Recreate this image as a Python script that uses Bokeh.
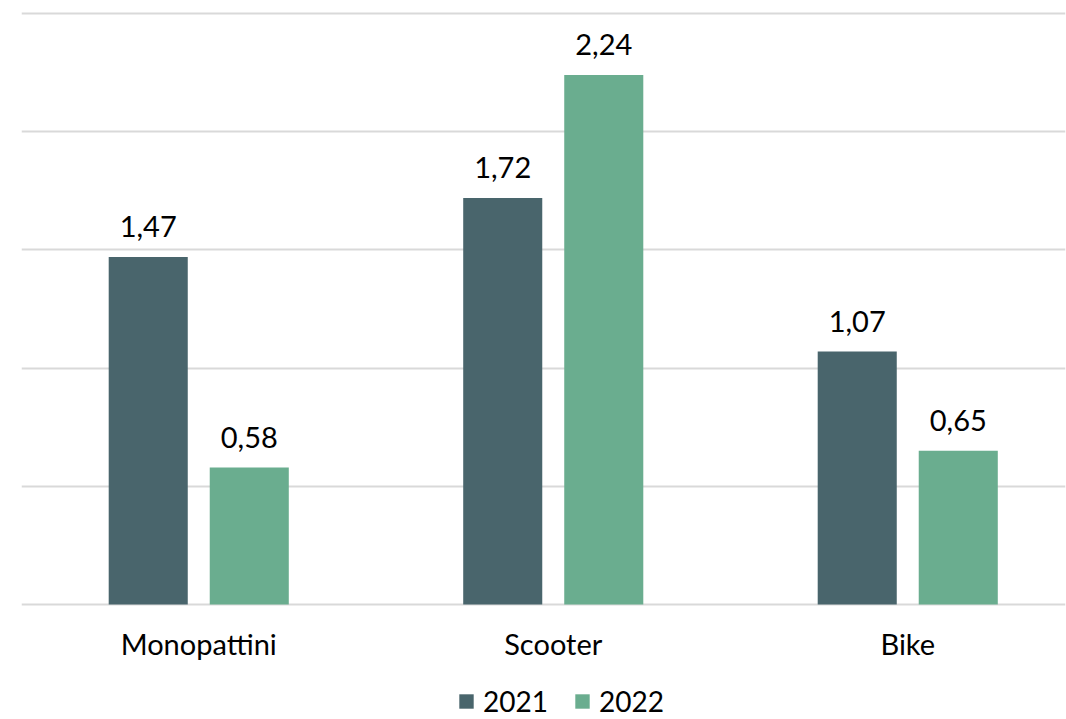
from bokeh.plotting import figure
from bokeh.models import ColumnDataSource, FixedTicker, Legend, LegendItem
from bokeh.embed import file_html
from bokeh.resources import INLINE
from bokeh.core.properties import value

categories = ["Monopattini", "Scooter", "Bike"]
series_names = ["2021", "2022"]
values_2021 = [1.47, 1.72, 1.07]
values_2022 = [0.58, 2.24, 0.65]
grid_ticks = [0, 0.5, 1.0, 1.5, 2.0, 2.5]
colors = ["#49656C", "#6AAD8F"]
FONT = "Lato"

xs = list(range(len(categories)))
p = figure(width=1066, height=719, output_backend="svg", toolbar_location=None,
           x_range=(-0.5, 2.445), y_range=(-0.4865, 2.555),
           min_border_left=21, min_border_right=1, min_border_top=0, min_border_bottom=0)
p.outline_line_color = None
p.background_fill_color = "white"
p.border_fill_color = "white"
p.xaxis.visible = False
p.yaxis.visible = False
p.xgrid.visible = False
p.ygrid.ticker = FixedTicker(ticks=grid_ticks)
p.ygrid.grid_line_color = "#D9D9D9"
p.ygrid.grid_line_width = 2

offset = 0.1425
width = 0.223
renderers = []
for i, (name, vals, col) in enumerate(zip(series_names, [values_2021, values_2022], colors)):
    dx = -offset if i == 0 else offset
    src = ColumnDataSource(dict(x=[x + dx for x in xs], top=vals,
                                lab=[f"{v:.2f}".replace(".", ",") for v in vals]))
    r = p.vbar(x="x", top="top", width=width, source=src, fill_color=col, line_color=None)
    renderers.append(r)
    p.text(x="x", y="top", text="lab", source=src, text_align="center", text_baseline="alphabetic",
           y_offset=-30, text_font=value(FONT), text_font_size="29px", text_color="#000000")

cat_src = ColumnDataSource(dict(x=xs, y=[0] * len(xs), t=categories))
p.text(x="x", y="y", text="t", source=cat_src, text_align="center", text_baseline="top",
       y_offset=22, text_font=value(FONT), text_font_size="29px", text_color="#000000")

legend = Legend(items=[LegendItem(label=n, renderers=[r]) for n, r in zip(series_names, renderers)],
                orientation="horizontal", location=(436, 1),
                label_text_font=FONT, label_text_font_size="28px", label_text_color="#000000",
                glyph_width=18, glyph_height=18, spacing=25, label_standoff=8,
                border_line_color=None, background_fill_alpha=0, margin=0, padding=0)
p.add_layout(legend, "center")

open("out.html", "w").write(file_html(p, INLINE))
